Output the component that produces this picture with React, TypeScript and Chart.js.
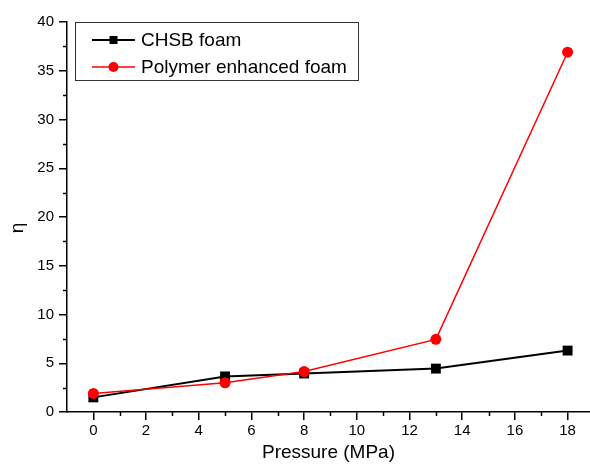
import { useEffect, useRef } from 'react';
import { Chart, registerables } from 'chart.js';

Chart.register(...registerables);

const pressure = [0, 5, 8, 13, 18];
const chsbFoam = [1.5, 3.65, 3.95, 4.45, 6.3];
const polymerFoam = [1.9, 3.0, 4.15, 7.45, 36.9];
const seriesNames = ['CHSB foam', 'Polymer enhanced foam'];
const xMinorTicks = [1, 3, 5, 7, 9, 11, 13, 15, 17];
const yMinorTicks = [2.5, 7.5, 12.5, 17.5, 22.5, 27.5, 32.5, 37.5];
const xTitle = 'Pressure (MPa)';
const yTitle = 'η';

const FONT = '"Liberation Sans", Arial, sans-serif';

const overlayPlugin = {
  id: 'overlay',
  afterDraw(chart: any) {
    const ctx = chart.ctx as CanvasRenderingContext2D;
    const xs = chart.scales.x;
    const ys = chart.scales.y;
    ctx.save();
    ctx.strokeStyle = '#000';
    ctx.lineWidth = 1.5;
    for (const v of xMinorTicks) {
      const px = Math.round(xs.getPixelForValue(v)) + 0.5;
      ctx.beginPath();
      ctx.moveTo(px, ys.bottom);
      ctx.lineTo(px, ys.bottom + 4);
      ctx.stroke();
    }
    for (const v of yMinorTicks) {
      const py = Math.round(ys.getPixelForValue(v)) + 0.5;
      ctx.beginPath();
      ctx.moveTo(xs.left, py);
      ctx.lineTo(xs.left - 4, py);
      ctx.stroke();
    }

    // y-axis title
    ctx.save();
    ctx.translate(18, 228);
    ctx.rotate(-Math.PI / 2);
    ctx.font = `19px ${FONT}`;
    ctx.fillStyle = '#000';
    ctx.textAlign = 'center';
    ctx.textBaseline = 'middle';
    ctx.fillText(yTitle, 0, 0);
    ctx.restore();

    // legend box inside plot area
    const area = chart.chartArea;
    const bx = area.left + 8;
    const by = area.top;
    const bw = 283;
    const bh = 58;
    ctx.lineWidth = 1;
    ctx.strokeStyle = '#333';
    ctx.strokeRect(bx + 0.5, by + 0.5, bw, bh);
    ctx.font = `19px ${FONT}`;
    ctx.textBaseline = 'middle';
    ctx.textAlign = 'left';
    chart.data.datasets.forEach((ds: any, i: number) => {
      const cy = by + 18 + i * 27;
      const lx0 = bx + 17;
      const lx1 = bx + 60;
      const mx = (lx0 + lx1) / 2;
      ctx.strokeStyle = ds.borderColor;
      ctx.lineWidth = ds.borderWidth;
      ctx.beginPath();
      ctx.moveTo(lx0, cy);
      ctx.lineTo(lx1, cy);
      ctx.stroke();
      ctx.fillStyle = ds.pointBackgroundColor;
      if (ds.pointStyle === 'rect') {
        ctx.fillRect(mx - 4, cy - 4, 8, 8);
      } else {
        ctx.beginPath();
        ctx.arc(mx, cy, 5, 0, Math.PI * 2);
        ctx.fill();
      }
      ctx.fillStyle = '#000';
      ctx.fillText(ds.label, bx + 66, cy + 1);
    });
    ctx.restore();
  },
};

export default function App() {
  const ref = useRef<HTMLCanvasElement | null>(null);

  useEffect(() => {
    if (!ref.current) return;
    const chart = new Chart(ref.current, {
      type: 'line',
      data: {
        datasets: [
          {
            label: seriesNames[0],
            data: pressure.map((p, i) => ({ x: p, y: chsbFoam[i] })),
            borderColor: '#000000',
            backgroundColor: '#000000',
            pointBackgroundColor: '#000000',
            pointBorderColor: '#000000',
            pointStyle: 'rect',
            pointRadius: 7,
            pointBorderWidth: 0,
            borderWidth: 2,
            tension: 0,
            clip: false,
            order: 1,
          },
          {
            label: seriesNames[1],
            data: pressure.map((p, i) => ({ x: p, y: polymerFoam[i] })),
            borderColor: '#ff0000',
            backgroundColor: '#ff0000',
            pointBackgroundColor: '#ff0000',
            pointBorderColor: '#ff0000',
            pointStyle: 'circle',
            pointRadius: 5.5,
            pointBorderWidth: 0,
            borderWidth: 1.5,
            tension: 0,
            clip: false,
            order: 0,
          },
        ] as any,
      },
      options: {
        responsive: false,
        animation: false,
        devicePixelRatio: 1,
        layout: { autoPadding: false, padding: { top: 22, right: 0, bottom: 0, left: 0 } },
        plugins: {
          legend: { display: false },
          tooltip: { enabled: false },
        },
        scales: {
          x: {
            type: 'linear',
            min: -1,
            max: 18.85,
            afterFit: (s: any) => {
              s.height = 53;
              s.paddingRight = 0;
              s.paddingLeft = 0;
            },
            ticks: {
              stepSize: 2,
              includeBounds: false,
              color: '#000',
              font: { family: FONT, size: 15 },
              padding: 2,
              maxRotation: 0,
              callback: (v: any) => String(v),
            },
            grid: {
              drawOnChartArea: false,
              drawTicks: true,
              tickLength: 8,
              color: '#000',
              lineWidth: 1.5,
            },
            border: { display: true, color: '#000', width: 1.5 },
            title: {
              display: true,
              text: xTitle,
              color: '#000',
              font: { family: FONT, size: 19 },
              padding: { top: 0, bottom: 1 },
            },
          },
          y: {
            type: 'linear',
            min: 0,
            max: 40,
            afterFit: (s: any) => {
              s.width = 67;
            },
            ticks: {
              stepSize: 5,
              color: '#000',
              font: { family: FONT, size: 15 },
              padding: 5,
            },
            grid: {
              drawOnChartArea: false,
              drawTicks: true,
              tickLength: 8,
              color: '#000',
              lineWidth: 1.5,
            },
            border: { display: true, color: '#000', width: 1.5 },
            title: { display: false },
          },
        },
      } as any,
      plugins: [overlayPlugin],
    });
    return () => chart.destroy();
  }, []);

  return (
    <div style={{ position: 'absolute', left: 0, top: 0, width: 590, height: 465, background: '#fff' }}>
      <canvas ref={ref} width={590} height={465} />
    </div>
  );
}
